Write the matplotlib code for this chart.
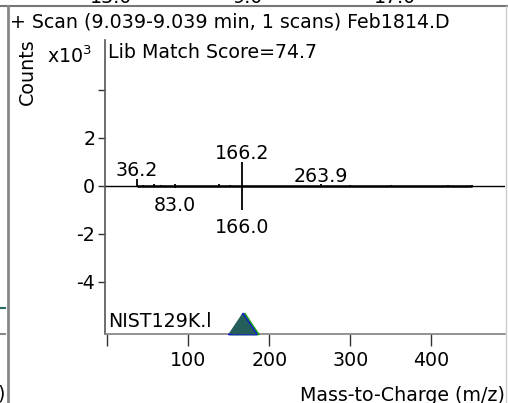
import matplotlib
matplotlib.use("Agg")
from matplotlib import pyplot as plt

# mirror spectrum: sample (up) vs library hit (down), counts x10^3
sample_mz = [36.2, 44.0, 57.0, 66.0, 83.0, 138.0, 151.0, 166.2, 263.9, 300.0, 350.0, 420.0, 450.0]
sample_int = [0.28, 0.04, 0.05, 0.04, 0.06, 0.06, 0.04, 0.99, 0.06, 0.03, 0.03, 0.03, 0.02]
lib_mz = [36.0, 57.0, 66.0, 83.0, 138.0, 166.0, 263.9]
lib_int = [-0.04, -0.04, -0.04, -0.10, -0.06, -1.0, -0.04]

labels_up = [(36.2, 0.28, "36.2"), (166.2, 0.99, "166.2"), (263.9, 0.06, "263.9")]
labels_down = [(83.0, -0.10, "83.0"), (166.0, -1.0, "166.0")]

marker_mz = 166.2
yticks = [-4, -2, 0, 2, 4]
ytick_labels = ["-4", "-2", "0", "2", ""]
xticks = [0, 100, 200, 300, 400]
xtick_labels = ["", "100", "200", "300", "400"]
top_frag = [(111, "13.0"), (248, "9.0"), (395, "17.0")]

W, H = 508, 403
fs = 13.7


def fx(px):
    return px / W


def fy(py):
    return 1 - py / H


fig = plt.figure(figsize=(W / 100, H / 100), dpi=100)
fig.patch.set_facecolor("white")

ax = fig.add_axes([fx(105), fy(334), 400 / W, 294 / H])
ax.set_xlim(-3, 491)
ax.set_ylim(-6.18, 6.07)

# baseline + spectrum
ax.axhline(0, color="black", lw=1.0, zorder=2)
ax.hlines(0, min(sample_mz), max(sample_mz), color="black", lw=1.8, zorder=2)
ax.vlines(sample_mz, 0, sample_int, color="black", lw=1.3, zorder=3)
ax.vlines(lib_mz, 0, lib_int, color="black", lw=1.3, zorder=3)

for mz, h, t in labels_up:
    ax.annotate(t, (mz, h), xytext=(0, -1), textcoords="offset points",
                ha="center", va="bottom", fontsize=fs)
for mz, h, t in labels_down:
    ax.annotate(t, (mz, h), xytext=(0, -6), textcoords="offset points",
                ha="center", va="top", fontsize=fs)

# retention marker triangle, base sitting on the x axis
tri = [(-1, 0), (1, 0), (0, 1.5)]
ylo = ax.get_ylim()[0]
ax.plot([marker_mz + 2.0], [ylo], marker=tri, ms=31, mfc="#245e5b", mec="#22a022",
        mew=1.2, clip_on=False, zorder=5)
ax.plot([marker_mz - 0.5], [ylo], marker=tri, ms=31, mfc="#245e5b", mec="#1010e0",
        mew=1.2, clip_on=False, zorder=6)
ax.plot([marker_mz + 0.8], [ylo], marker=tri, ms=28, mfc="#245e5b", mec="none",
        clip_on=False, zorder=7)

for s in ["top", "right"]:
    ax.spines[s].set_visible(False)
ax.spines["left"].set_color("#555555")
ax.spines["bottom"].set_color("#808080")
ax.spines["left"].set_linewidth(1.2)
ax.spines["bottom"].set_linewidth(1.2)

ax.set_yticks(yticks)
ax.set_yticklabels(ytick_labels)
ax.set_xticks(xticks)
ax.set_xticklabels(xtick_labels)
ax.tick_params(axis="y", length=5, width=1, color="#333333", pad=2, labelsize=fs)
ax.tick_params(axis="x", length=8.5, width=1, color="#333333", pad=4, labelsize=fs)

# texts around the plot
fig.text(fx(10), fy(22), "+ Scan (9.039-9.039 min, 1 scans) Feb1814.D",
         fontsize=fs, va="center", ha="left")
fig.text(fx(27), fy(72), "Counts", rotation=90, fontsize=fs, ha="center", va="center")
fig.text(fx(47), fy(56), r"x10$^3$", fontsize=fs, ha="left", va="center")
fig.text(fx(108), fy(52), "Lib Match Score=74.7", fontsize=fs, ha="left", va="center")
fig.text(fx(108), fy(331), "NIST129K.l", fontsize=fs, ha="left", va="bottom")
fig.text(fx(505), fy(401), "Mass-to-Charge (m/z)", fontsize=fs, ha="right", va="baseline")

# window frame fragments
fig.add_artist(plt.Line2D([0, 1], [fy(6), fy(6)], color="#777777", lw=1.5))
fig.add_artist(plt.Line2D([fx(8), fx(8)], [0, fy(6)], color="#888888", lw=2))
fig.add_artist(plt.Line2D([fx(506), fx(506)], [0, fy(6)], color="#cccccc", lw=1))
fig.add_artist(plt.Line2D([0, fx(5)], [fy(308), fy(308)], color="#2a6a60", lw=1.5))
fig.add_artist(plt.Line2D([0, fx(5)], [fy(334), fy(334)], color="#888888", lw=1.5))
for x, t in top_frag:
    fig.text(fx(x), fy(3), t, fontsize=fs, ha="center", va="baseline")
fig.text(fx(-3), fy(400), ")", fontsize=fs, ha="left", va="baseline")

fig.savefig("out.png", dpi=100)
